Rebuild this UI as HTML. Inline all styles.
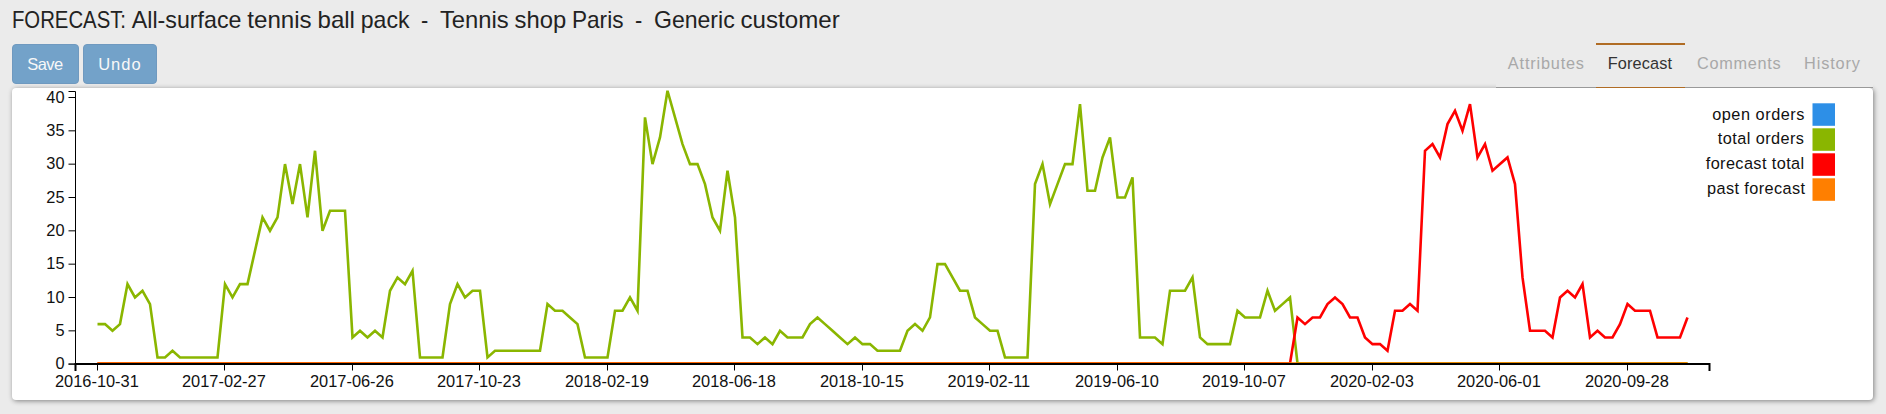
<!DOCTYPE html>
<html><head><meta charset="utf-8"><style>
html,body{margin:0;padding:0}
body{width:1886px;height:414px;overflow:hidden;background:#ebebeb;position:relative;font-family:"Liberation Sans",sans-serif;color:#222}
.panel{position:absolute;left:12px;top:88px;width:1861px;height:312px;background:#fff;border-radius:4px;box-shadow:1px 1px 5px rgba(0,0,0,.45)}
.tabcover{position:absolute;left:1496px;top:70px;width:377px;height:17px;background:#ebebeb;border-bottom:1px solid #999}
.act{position:absolute;left:1596px;top:43px;width:89px;height:2px;background:#b06c24}
.actb{position:absolute;left:1596px;top:87px;width:89px;height:1px;background:#b06c24}
.btn{position:absolute;top:44px;height:38px;background:#73a2c9;border:1px solid #6f99bf;border-radius:4px}
svg{position:absolute;left:0;top:0}
</style></head><body>
<div class="panel"></div>
<div class="tabcover"></div>
<div class="act"></div><div class="actb"></div>
<div class="btn" style="left:12px;width:65px"></div>
<div class="btn" style="left:83px;width:72px"></div>
<svg width="1886" height="414" viewBox="0 0 1886 414" font-family="Liberation Sans, sans-serif" font-size="16">
<text x="11.90" y="28" font-size="23.6" fill="#222" textLength="114.12" lengthAdjust="spacingAndGlyphs">FORECAST:</text>
<text x="131.82" y="28" font-size="23.6" fill="#222" textLength="109.61" lengthAdjust="spacingAndGlyphs">All-surface</text>
<text x="247.25" y="28" font-size="23.6" fill="#222" textLength="64.41" lengthAdjust="spacingAndGlyphs">tennis</text>
<text x="317.49" y="28" font-size="23.6" fill="#222" textLength="37.49" lengthAdjust="spacingAndGlyphs">ball</text>
<text x="360.78" y="28" font-size="23.6" fill="#222" textLength="48.71" lengthAdjust="spacingAndGlyphs">pack</text>
<text x="421.10" y="28" font-size="23.6" fill="#222" textLength="7.23" lengthAdjust="spacingAndGlyphs">-</text>
<text x="439.97" y="28" font-size="23.6" fill="#222" textLength="68.77" lengthAdjust="spacingAndGlyphs">Tennis</text>
<text x="514.55" y="28" font-size="23.6" fill="#222" textLength="51.64" lengthAdjust="spacingAndGlyphs">shop</text>
<text x="572.00" y="28" font-size="23.6" fill="#222" textLength="51.46" lengthAdjust="spacingAndGlyphs">Paris</text>
<text x="635.07" y="28" font-size="23.6" fill="#222" textLength="7.23" lengthAdjust="spacingAndGlyphs">-</text>
<text x="653.94" y="28" font-size="23.6" fill="#222" textLength="80.78" lengthAdjust="spacingAndGlyphs">Generic</text>
<text x="740.53" y="28" font-size="23.6" fill="#222" textLength="99.15" lengthAdjust="spacingAndGlyphs">customer</text>
<text x="27.35" y="69.9" font-size="16.5" fill="#f8f8f8" textLength="35.75" lengthAdjust="spacing">Save</text>
<text x="98.15" y="69.9" font-size="16.5" fill="#f8f8f8" textLength="42.50" lengthAdjust="spacing">Undo</text>
<text x="1507.85" y="68.9" font-size="16.3" fill="#a8a8a8" textLength="76.15" lengthAdjust="spacing">Attributes</text>
<text x="1607.65" y="68.9" font-size="16.3" fill="#333" textLength="64.40" lengthAdjust="spacing">Forecast</text>
<text x="1697.00" y="69.0" font-size="16.3" fill="#a8a8a8" textLength="83.65" lengthAdjust="spacing">Comments</text>
<text x="1804.00" y="69.0" font-size="16.3" fill="#a8a8a8" textLength="55.90" lengthAdjust="spacing">History</text>
<text x="1712.15" y="119.6" font-size="16.3" fill="#111" textLength="92.30" lengthAdjust="spacing">open orders</text>
<text x="1717.75" y="144.3" font-size="16.3" fill="#111" textLength="86.25" lengthAdjust="spacing">total orders</text>
<text x="1705.70" y="169.4" font-size="16.3" fill="#111" textLength="98.45" lengthAdjust="spacing">forecast total</text>
<text x="1707.00" y="194.2" font-size="16.3" fill="#111" textLength="98.05" lengthAdjust="spacing">past forecast</text>
<g fill="#111">
<path d="M97.5,324.1L105,324.1L112.5,330.77L120,324.1L127.5,284.1L135,297.43L142.5,290.76L150,304.1L157.5,357.43L165,357.43L172.5,350.77L180,357.43L187.5,357.43L195,357.43L202.5,357.43L210,357.43L217.5,357.43L225,284.1L232.5,297.43L240,284.1L247.5,284.1L255,250.76L262.5,217.43L270,230.76L277.5,217.43L285,164.09L292.5,204.09L300,164.09L307.5,217.43L315,150.76L322.5,230.76L330,210.76L337.5,210.76L345,210.76L352.5,337.43L360,330.77L367.5,337.43L375,330.77L382.5,337.43L390,290.76L397.5,277.43L405,284.1L412.5,270.76L420,357.43L427.5,357.43L435,357.43L442.5,357.43L450,304.1L457.5,284.1L465,297.43L472.5,290.76L480,290.76L487.5,357.43L495,350.77L502.5,350.77L510,350.77L517.5,350.77L525,350.77L532.5,350.77L540,350.77L547.5,304.1L555,310.76L562.5,310.76L570,317.43L577.5,324.1L585,357.43L592.5,357.43L600,357.43L607.5,357.43L615,310.76L622.5,310.76L630,297.43L637.5,310.76L645,117.42L652.5,164.09L660,137.42L667.5,90.75L675,117.42L682.5,144.09L690,164.09L697.5,164.09L705,184.09L712.5,217.43L720,230.76L727.5,170.76L735,217.43L742.5,337.43L750,337.43L757.5,344.1L765,337.43L772.5,344.1L780,330.77L787.5,337.43L795,337.43L802.5,337.43L810,324.1L817.5,317.43L825,324.1L832.5,330.77L840,337.43L847.5,344.1L855,337.43L862.5,344.1L870,344.1L877.5,350.77L885,350.77L892.5,350.77L900,350.77L907.5,330.77L915,324.1L922.5,330.77L930,317.43L937.5,264.1L945,264.1L952.5,277.43L960,290.76L967.5,290.76L975,317.43L982.5,324.1L990,330.77L997.5,330.77L1005,357.43L1012.5,357.43L1020,357.43L1027.5,357.43L1035,184.09L1042.5,164.09L1050,204.09L1057.5,184.09L1065,164.09L1072.5,164.09L1080,104.09L1087.5,190.76L1095,190.76L1102.5,157.42L1110,137.42L1117.5,197.43L1125,197.43L1132.5,177.42L1140,337.43L1147.5,337.43L1155,337.43L1162.5,344.1L1170,290.76L1177.5,290.76L1185,290.76L1192.5,277.43L1200,337.43L1207.5,344.1L1215,344.1L1222.5,344.1L1230,344.1L1237.5,310.76L1245,317.43L1252.5,317.43L1260,317.43L1267.5,290.76L1275,310.76L1282.5,304.1L1290,297.43L1297.5,363.4L1687.5,363.4" fill="none" stroke="#8ab600" stroke-width="2.6"/>
<path d="M97.5,363.4L1290,363.4L1297.5,317.43L1305,324.1L1312.5,317.43L1320,317.43L1327.5,304.1L1335,297.43L1342.5,304.1L1350,317.43L1357.5,317.43L1365,337.43L1372.5,344.1L1380,344.1L1387.5,350.77L1395,310.76L1402.5,310.76L1410,304.1L1417.5,310.76L1425,150.76L1432.5,144.09L1440,157.42L1447.5,124.09L1455,110.75L1462.5,130.76L1470,104.09L1477.5,157.42L1485,144.09L1492.5,170.76L1500,164.09L1507.5,157.42L1515,184.09L1522.5,277.43L1530,330.77L1537.5,330.77L1545,330.77L1552.5,337.43L1560,297.43L1567.5,290.76L1575,297.43L1582.5,284.1L1590,337.43L1597.5,330.77L1605,337.43L1612.5,337.43L1620,324.1L1627.5,304.1L1635,310.76L1642.5,310.76L1650,310.76L1657.5,337.43L1665,337.43L1672.5,337.43L1680,337.43L1687.5,317.43" fill="none" stroke="#ff0000" stroke-width="2.6"/>
<path d="M97.5,363.4L1687.5,363.4" fill="none" stroke="#ff7f00" stroke-opacity="0.8" stroke-width="2.6"/>
<path d="M68.5,91.5H75.5V364H68.5" fill="none" stroke="#000" stroke-width="1"/>
<line x1="68.5" x2="75.5" y1="364.18" y2="364.18" stroke="#000"/>
<text x="64.6" y="369.38" text-anchor="end" font-size="16.4">0</text>
<line x1="68.5" x2="75.5" y1="330.85" y2="330.85" stroke="#000"/>
<text x="64.6" y="336.05" text-anchor="end" font-size="16.4">5</text>
<line x1="68.5" x2="75.5" y1="297.51" y2="297.51" stroke="#000"/>
<text x="64.6" y="302.71" text-anchor="end" font-size="16.4">10</text>
<line x1="68.5" x2="75.5" y1="264.17" y2="264.17" stroke="#000"/>
<text x="64.6" y="269.37" text-anchor="end" font-size="16.4">15</text>
<line x1="68.5" x2="75.5" y1="230.84" y2="230.84" stroke="#000"/>
<text x="64.6" y="236.04" text-anchor="end" font-size="16.4">20</text>
<line x1="68.5" x2="75.5" y1="197.5" y2="197.5" stroke="#000"/>
<text x="64.6" y="202.7" text-anchor="end" font-size="16.4">25</text>
<line x1="68.5" x2="75.5" y1="164.17" y2="164.17" stroke="#000"/>
<text x="64.6" y="169.37" text-anchor="end" font-size="16.4">30</text>
<line x1="68.5" x2="75.5" y1="130.84" y2="130.84" stroke="#000"/>
<text x="64.6" y="136.03" text-anchor="end" font-size="16.4">35</text>
<line x1="68.5" x2="75.5" y1="97.5" y2="97.5" stroke="#000"/>
<text x="64.6" y="102.7" text-anchor="end" font-size="16.4">40</text>
<path d="M75.5,371V364H1709.5V371" fill="none" stroke="#000" stroke-width="2"/>
<line x1="97.5" x2="97.5" y1="364" y2="370.5" stroke="#000"/>
<text x="96.9" y="386.8" text-anchor="middle" font-size="16.4">2016-10-31</text>
<line x1="224.5" x2="224.5" y1="364" y2="370.5" stroke="#000"/>
<text x="223.9" y="386.8" text-anchor="middle" font-size="16.4">2017-02-27</text>
<line x1="352.5" x2="352.5" y1="364" y2="370.5" stroke="#000"/>
<text x="351.9" y="386.8" text-anchor="middle" font-size="16.4">2017-06-26</text>
<line x1="479.5" x2="479.5" y1="364" y2="370.5" stroke="#000"/>
<text x="478.9" y="386.8" text-anchor="middle" font-size="16.4">2017-10-23</text>
<line x1="607.5" x2="607.5" y1="364" y2="370.5" stroke="#000"/>
<text x="606.9" y="386.8" text-anchor="middle" font-size="16.4">2018-02-19</text>
<line x1="734.5" x2="734.5" y1="364" y2="370.5" stroke="#000"/>
<text x="733.9" y="386.8" text-anchor="middle" font-size="16.4">2018-06-18</text>
<line x1="862.5" x2="862.5" y1="364" y2="370.5" stroke="#000"/>
<text x="861.9" y="386.8" text-anchor="middle" font-size="16.4">2018-10-15</text>
<line x1="989.5" x2="989.5" y1="364" y2="370.5" stroke="#000"/>
<text x="988.9" y="386.8" text-anchor="middle" font-size="16.4">2019-02-11</text>
<line x1="1117.5" x2="1117.5" y1="364" y2="370.5" stroke="#000"/>
<text x="1116.9" y="386.8" text-anchor="middle" font-size="16.4">2019-06-10</text>
<line x1="1244.5" x2="1244.5" y1="364" y2="370.5" stroke="#000"/>
<text x="1243.9" y="386.8" text-anchor="middle" font-size="16.4">2019-10-07</text>
<line x1="1372.5" x2="1372.5" y1="364" y2="370.5" stroke="#000"/>
<text x="1371.9" y="386.8" text-anchor="middle" font-size="16.4">2020-02-03</text>
<line x1="1499.5" x2="1499.5" y1="364" y2="370.5" stroke="#000"/>
<text x="1498.9" y="386.8" text-anchor="middle" font-size="16.4">2020-06-01</text>
<line x1="1627.5" x2="1627.5" y1="364" y2="370.5" stroke="#000"/>
<text x="1626.9" y="386.8" text-anchor="middle" font-size="16.4">2020-09-28</text>
<rect x="1812.5" y="103.3" width="22.5" height="22.5" fill="#2d8fe7"/>
<rect x="1812.5" y="128.3" width="22.5" height="22.5" fill="#8ab600"/>
<rect x="1812.5" y="153.3" width="22.5" height="22.5" fill="#ff0000"/>
<rect x="1812.5" y="178.3" width="22.5" height="22.5" fill="#ff7f00"/>
</g>
</svg>
</body></html>
